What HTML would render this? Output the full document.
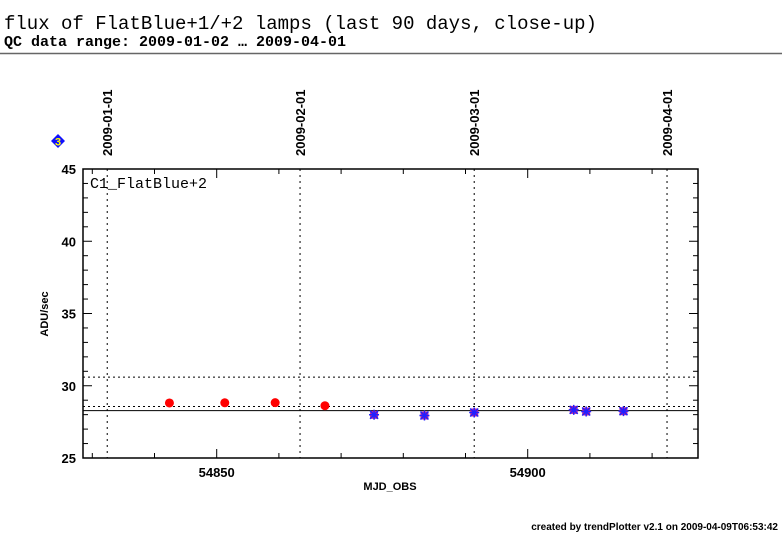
<!DOCTYPE html>
<html><head><meta charset="utf-8"><style>
body{margin:0;background:#fff;width:782px;height:542px;overflow:hidden}
svg{display:block}
</style></head><body>
<svg id="chart" width="782" height="542" xmlns="http://www.w3.org/2000/svg" font-family="Liberation Sans, sans-serif">
<text x="4" y="29" font-family="Liberation Mono, monospace" font-size="19">flux of FlatBlue+1/+2 lamps (last 90 days, close-up)</text>
<text x="4" y="46" font-family="Liberation Mono, monospace" font-size="15" font-weight="bold">QC data range: 2009-01-02 … 2009-04-01</text>
<line x1="0" y1="53.5" x2="782" y2="53.5" stroke="#666" stroke-width="1.5"/>
<g><polygon points="58,134 65,141 58,148 51,141" fill="#1010ff"/><text x="58" y="145.5" text-anchor="middle" font-size="11" font-weight="bold" fill="#ff0">3</text></g>
<g id="grid"></g><g id="marks"></g><g id="axes"></g>
<text x="90" y="188" font-family="Liberation Mono, monospace" font-size="15">C1_FlatBlue+2</text>
<text x="48" y="314" transform="rotate(-90 48 314)" text-anchor="middle" font-size="11" font-weight="bold">ADU/sec</text>
<text x="390" y="490" text-anchor="middle" font-size="11" font-weight="bold">MJD_OBS</text>
<text x="778" y="530" text-anchor="end" font-size="10" font-weight="bold">created by trendPlotter v2.1 on 2009-04-09T06:53:42</text>
</svg>
<script>
const redX=[54842.4,54851.3,54859.4,54867.4];
const redY=[28.81,28.82,28.83,28.62];
const blueX=[54875.3,54883.4,54891.4,54907.4,54909.4,54915.4];
const blueY=[27.99,27.94,28.15,28.33,28.22,28.24];
const dateLabels=["2009-01-01","2009-02-01","2009-03-01","2009-04-01"];
const dateMJD=[54832.4,54863.4,54891.4,54922.4];
const yTicks=[25,30,35,40,45];
const xTicks=[54850,54900];
const refDotted=[30.6,28.56];
const refSolid=[28.28];
const NS="http://www.w3.org/2000/svg";
const L=83,R=698,T=169,B=458;
const xs=m=>216.7+(m-54850)*6.22;
const ys=v=>B-(v-25)*(B-T)/20;
function mk(tag,at,parent){const e=document.createElementNS(NS,tag);for(const k in at)e.setAttribute(k,at[k]);document.getElementById(parent).appendChild(e);return e;}
refDotted.forEach(v=>{const e=mk('line',{x1:L,x2:R,y1:ys(v),y2:ys(v),stroke:'#000','stroke-dasharray':'2,3'},'grid');

});
refSolid.forEach(v=>{const e=mk('line',{x1:L,x2:R,y1:ys(v),y2:ys(v),stroke:'#000'},'grid');

});
dateMJD.forEach((m,i)=>{const x=xs(m);const e=mk('line',{x1:x,x2:x,y1:T,y2:B,stroke:'#000','stroke-dasharray':'2,4'},'grid');


const t=mk('text',{x:x+5,y:156,transform:`rotate(-90 ${x+5} 156)`,'font-size':13,'font-weight':'bold'},'grid');t.textContent=dateLabels[i];

});
redX.forEach((m,i)=>{const e=mk('circle',{cx:xs(m),cy:ys(redY[i]),r:4.5,fill:'#f00'},'marks');

});
blueX.forEach((m,i)=>{const x=xs(m),y=ys(blueY[i]);const g=mk('g',{},'marks');


const a=document.createElementNS(NS,'rect');a.setAttribute('x',x-4);a.setAttribute('y',y-4);a.setAttribute('width',8);a.setAttribute('height',8);a.setAttribute('fill','#c0209a');g.appendChild(a);
const p=document.createElementNS(NS,'path');p.setAttribute('d',`M${x-5} ${y}H${x+5}M${x} ${y-5}V${y+5}M${x-4} ${y-4}L${x+4} ${y+4}M${x-4} ${y+4}L${x+4} ${y-4}`);p.setAttribute('stroke','#2020ff');p.setAttribute('stroke-width',1.5);g.appendChild(p);});
const fr=mk('rect',{x:L,y:T,width:R-L,height:B-T,fill:'none',stroke:'#000','stroke-width':1.5},'axes');


for(let v=25;v<=45;v++){const y=ys(v),len=v%5?5:9;mk('line',{x1:L,x2:L+len,y1:y,y2:y,stroke:'#000'},'axes');mk('line',{x1:R,x2:R-len,y1:y,y2:y,stroke:'#000'},'axes');}
yTicks.forEach(v=>{const t=mk('text',{x:76,y:ys(v)+5,'text-anchor':'end','font-size':13,'font-weight':'bold'},'axes');t.textContent=v;

});
for(let m=54830;m<=54920;m+=10){const x=xs(m),len=m%50?5:9;mk('line',{x1:x,x2:x,y1:B,y2:B-len,stroke:'#000'},'axes');mk('line',{x1:x,x2:x,y1:T,y2:T+len,stroke:'#000'},'axes');}
xTicks.forEach(m=>{const t=mk('text',{x:xs(m),y:477,'text-anchor':'middle','font-size':13,'font-weight':'bold'},'axes');t.textContent=m;

});
</script>
</body></html>
